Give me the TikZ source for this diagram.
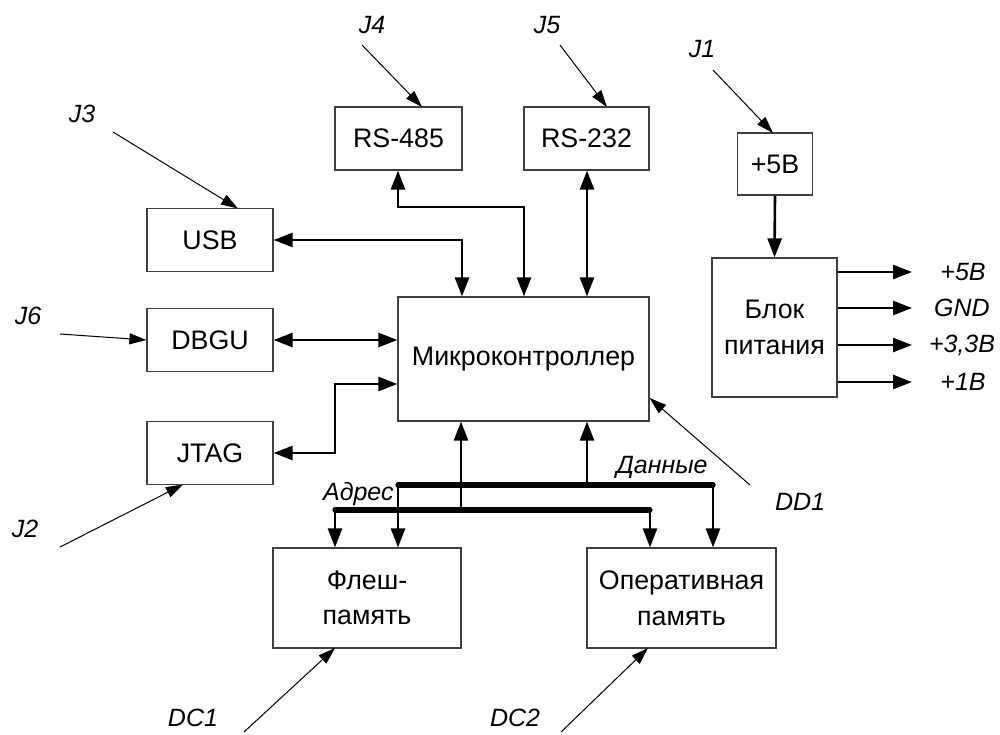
\documentclass[tikz,border=0pt]{standalone}
\usepackage{fontspec}
\setmainfont{Liberation Sans}
\usetikzlibrary{arrows.meta,calc}
\begin{document}
\begin{tikzpicture}[x=0.5pt,y=-0.5pt,
  blk/.style 2 args={draw=black!75,line width=0.6pt,minimum width=#1*0.5pt,minimum height=#2*0.5pt,inner sep=0pt,font=\fontsize{13.4}{17.8}\selectfont,align=center},
  conn/.style={line width=1.3pt,-{Triangle[length=9.5pt,width=7pt]}},
  bconn/.style={line width=1.3pt,{Triangle[length=9.5pt,width=7pt]}-{Triangle[length=9.5pt,width=7pt]}},
  jarrow/.style={line width=0.5pt,-{Triangle[length=8.5pt,width=5.5pt]}},
  bus/.style={line width=2.6pt,line cap=round},
  lbl/.style={font=\fontsize{12.5}{14}\selectfont\itshape,inner sep=1pt}]
\useasboundingbox (0,0) rectangle (1000,734);
% blocks
\node[blk={127}{63}] (rs485) at (398.5,138.5) {RS-485};
\node[blk={125}{63}] (rs232) at (586.5,138.5) {RS-232};
\node[blk={75}{62}] (p5) at (775,164) {+5В};
\node[blk={126}{63}] (usb) at (210,240) {USB};
\node[blk={126}{63}] (dbgu) at (210,340) {DBGU};
\node[blk={126}{63}] (jtag) at (210,453) {JTAG};
\node[blk={251}{124}] (mc) at (523.5,359) {Микроконтроллер};
\node[blk={125}{139}] (psu) at (774.5,327.5) {Блок\\питания};
\node[blk={188}{100}] (flash) at (367,598) {Флеш-\\память};
\node[blk={189}{100}] (ram) at (681.5,598) {Оперативная\\память};
% labels
\node[lbl] (j4) at (372,25) {J4};
\node[lbl] (j5) at (547,25) {J5};
\node[lbl] (j1) at (702,49) {J1};
\node[lbl] (j3) at (82,114) {J3};
\node[lbl] (j6) at (28,316) {J6};
\node[lbl] (j2) at (25,529) {J2};
\node[lbl] (dd1) at (800,502) {DD1};
\node[lbl] (dc1) at (193,718) {DC1};
\node[lbl] (dc2) at (515,718) {DC2};
\node[lbl,anchor=east] (addr) at (396,494) {Адрес};
\node[lbl] (data) at (662,467) {Данные};
\node[lbl] (o1) at (963,272) {+5В};
\node[lbl] (o2) at (962,308) {GND};
\node[lbl] (o3) at (962,345) {+3,3В};
\node[lbl] (o4) at (963,382) {+1В};
% connector ends
\coordinate (j4s) at (362,45);
\coordinate (j5s) at (560,45);
\coordinate (j1s) at (713,70);
\coordinate (j3s) at (113,132);
\coordinate (j6s) at (60,334);
\coordinate (j2s) at (60,547);
\coordinate (dd1s) at (750,485);
\coordinate (dc1s) at (244,732);
\coordinate (dc2s) at (561,732);
% thin connector arrows
\draw[jarrow] (j4s) -- (422,107);
\draw[jarrow] (j5s) -- (607,107);
\draw[jarrow] (j1s) -- (773,133);
\draw[jarrow] (j3s) -- (238,208.5);
\draw[jarrow] (j6s) -- (dbgu.west);
\draw[jarrow] (j2s) -- (183,484.5);
\draw[jarrow] (dd1s) -- (mc.east |- 0,398);
\draw[jarrow] (dc1s) -- (335,648);
\draw[jarrow] (dc2s) -- (648,648);
% interfaces
\draw[bconn] (usb.east) -- (462,240) -- (mc.north -| 462,0);
\draw[bconn] (rs485.south -| 398,0) -- (398,207) -- (524,207) -- (mc.north -| 524,0);
\draw[bconn] (rs232.south -| 587,0) -- (mc.north -| 587,0);
\draw[bconn] (dbgu.east) -- (mc.west |- 0,340);
\draw[bconn] (jtag.east) -- (335,453) -- (335,384) -- (mc.west |- 0,384);
% power
\draw[conn] (p5.south) -- (psu.north);
\draw[conn] (psu.east |- 0,272) -- (912,272);
\draw[conn] (psu.east |- 0,308) -- (912,308);
\draw[conn] (psu.east |- 0,345) -- (912,345);
\draw[conn] (psu.east |- 0,382) -- (912,382);
% buses
\coordinate (dL) at (398,485);
\coordinate (dR) at (713,485);
\coordinate (aL) at (335,510);
\coordinate (aR) at (650,510);
\draw[conn] (461,510) -- (mc.south -| 461,0);
\draw[conn] (587,485) -- (mc.south -| 587,0);
\draw[conn] (aL) -- (flash.north -| aL);
\draw[conn] (dL) -- (flash.north -| dL);
\draw[conn] (aR) -- (ram.north -| aR);
\draw[conn] (dR) -- (ram.north -| dR);
\draw[bus] (dL) -- (dR);
\draw[bus] (aL) -- (aR);
\end{tikzpicture}
\end{document}
